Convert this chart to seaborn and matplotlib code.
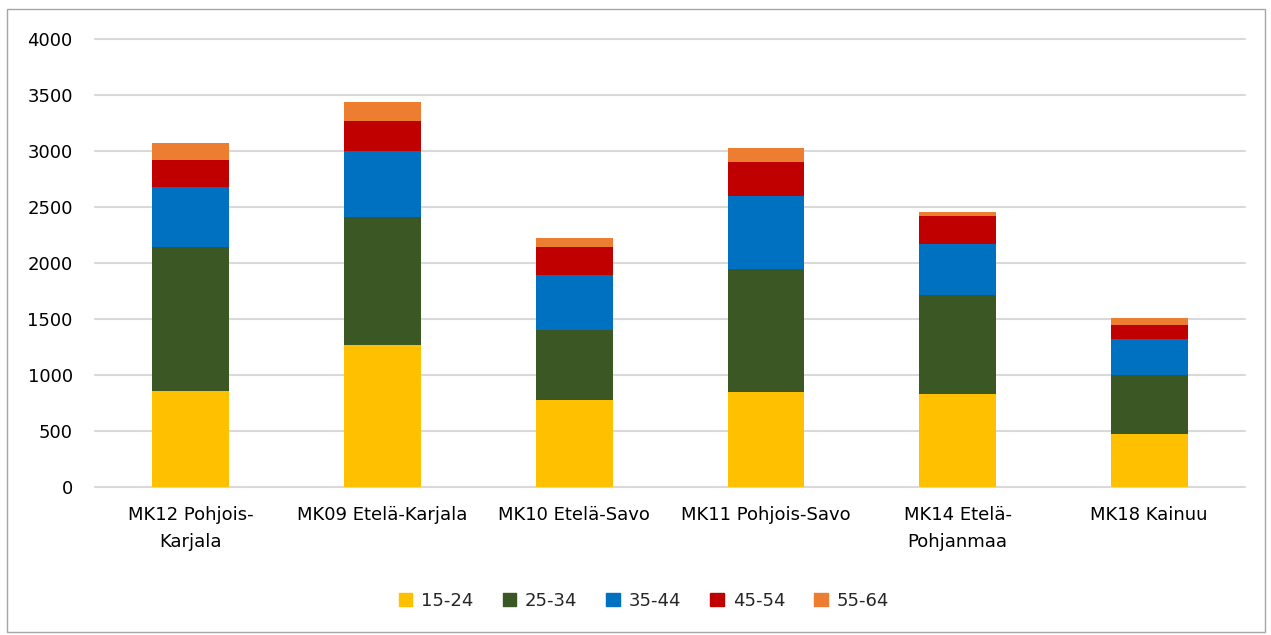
import numpy as np
import pandas as pd
import matplotlib.pyplot as plt
import matplotlib.patches as mpatches
import seaborn as sns

regions = ['MK12 Pohjois-\nKarjala', 'MK09 Etelä-Karjala', 'MK10 Etelä-Savo',
           'MK11 Pohjois-Savo', 'MK14 Etelä-\nPohjanmaa', 'MK18 Kainuu']
age_groups = ['15-24', '25-34', '35-44', '45-54', '55-64']

age_15_24 = [856, 1264, 780, 851, 833, 473]
age_25_34 = [1285, 1145, 618, 1097, 880, 526]
age_35_44 = [535, 594, 499, 651, 458, 321]
age_45_54 = [247, 262, 244, 306, 247, 125]
age_55_64 = [149, 173, 86, 122, 41, 63]

colors = ['#FFC000', '#3B5724', '#0070C0', '#C00000', '#ED7D31']

sns.set_style('white')
plt.rcParams['font.family'] = ['DejaVu Sans']

fig = plt.figure(figsize=(12.71, 6.35), dpi=100)
ax = fig.add_axes([95 / 1271, 1 - 487 / 635, 1150 / 1271, 448 / 635])

series = [age_15_24, age_25_34, age_35_44, age_45_54, age_55_64]
bottom = np.zeros(len(regions))
handles = []
for name, vals, c in zip(age_groups, series, colors):
    df = pd.DataFrame({'region': regions, 'value': vals})
    sns.barplot(data=df, x='region', y='value', bottom=bottom, color=c,
                width=0.4, saturation=1, errorbar=None, ax=ax, zorder=3,
                linewidth=0)
    bottom = bottom + np.array(vals)
    handles.append(mpatches.Patch(color=c, label=name))

ax.set_ylim(0, 4000)
ax.set_yticks(range(0, 4001, 500))
ax.yaxis.grid(True, color='#d9d9d9', linewidth=1.5, zorder=0)
for gl in ax.get_ygridlines():
    gl.set_clip_on(False)
ax.set_axisbelow(True)
for s in ax.spines.values():
    s.set_visible(False)
ax.set_xlabel('')
ax.set_ylabel('')
ax.tick_params(axis='y', length=0, pad=16, labelsize=13, labelcolor='black')
ax.tick_params(axis='x', length=0, pad=14, labelsize=13, labelcolor='black')
for lbl in ax.get_xticklabels():
    lbl.set_linespacing(1.6)

fig.legend(handles=handles, loc='center', bbox_to_anchor=(644 / 1271, 1 - 601 / 635),
           ncol=5, frameon=False, fontsize=13, handlelength=0.75, handleheight=0.75,
           handletextpad=0.5, columnspacing=1.6)

fig.patches.append(mpatches.Rectangle((7 / 1271, 3 / 635), 1258 / 1271, 623 / 635,
                                      transform=fig.transFigure, fill=False,
                                      edgecolor='#a6a6a6', linewidth=1))

fig.savefig('out.png', dpi=100)
